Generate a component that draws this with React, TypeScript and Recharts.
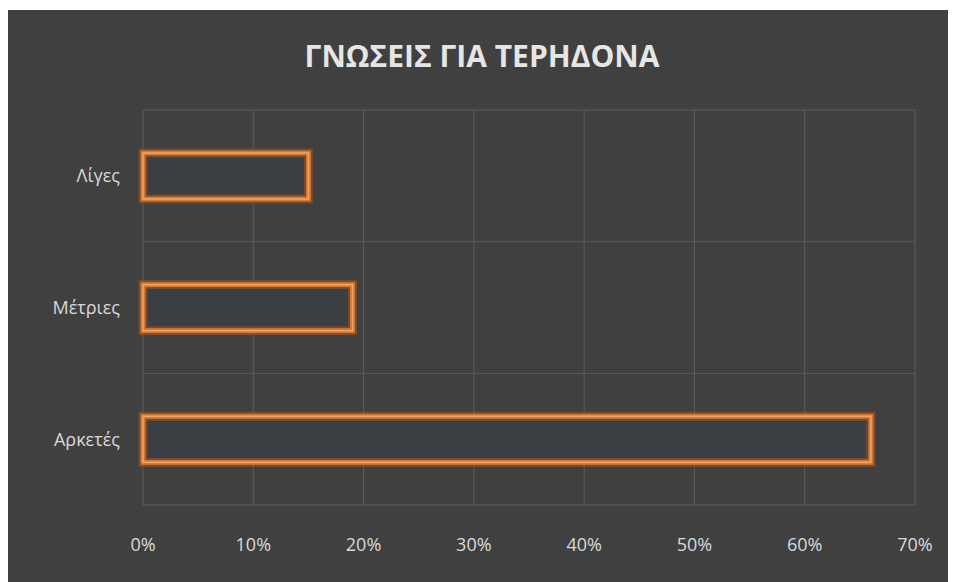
import { BarChart, Bar, XAxis, YAxis, CartesianGrid } from 'recharts';

const categories = ['Λίγες', 'Μέτριες', 'Αρκετές'];
const percentages = [15, 19, 66];
const xTicks = [0, 10, 20, 30, 40, 50, 60, 70];

const data = categories.map((name, i) => ({ name, value: percentages[i] }));

// orange outline with a soft glow, like the original
const GlowBar = (props: any) => {
  const { x, y, width, height } = props;
  if (width == null || width <= 0) return null;
  return (
    <g>
      <rect x={x} y={y} width={width} height={height} fill="#3b3e43" stroke="#b35a22" strokeWidth={9} strokeOpacity={0.45} />
      <rect x={x} y={y} width={width} height={height} fill="none" stroke="#d7772f" strokeWidth={5} />
      <rect x={x} y={y} width={width} height={height} fill="none" stroke="#f0a56a" strokeWidth={1.5} />
    </g>
  );
};

const tickStyle = { fill: '#d9d9d9', fontSize: 18, fontFamily: '"Open Sans", sans-serif' };

export default function App() {
  return (
    <div style={{ position: 'relative', width: 948, height: 572, marginTop: 2, background: '#404040' }}>
      <div
        style={{
          position: 'absolute',
          top: 25,
          left: 0,
          width: 948,
          textAlign: 'center',
          fontFamily: '"Open Sans", sans-serif',
          fontWeight: 700,
          fontSize: 30,
          color: '#e6e6e6',
        }}
      >
        ΓΝΩΣΕΙΣ ΓΙΑ ΤΕΡΗΔΟΝΑ
      </div>
      <BarChart
        width={948}
        height={572}
        data={data}
        layout="vertical"
        margin={{ top: 100, right: 41, left: 8, bottom: 37 }}
        barSize={46}
      >
        <CartesianGrid
          stroke="#5c5c5c"
          horizontalCoordinatesGenerator={({ offset }: any) => {
            const step = offset.height / categories.length;
            return categories.map((_, i) => offset.top + i * step).concat(offset.top + offset.height);
          }}
        />
        <XAxis
          type="number"
          domain={[0, 70]}
          ticks={xTicks}
          tickFormatter={(v: number) => `${v}%`}
          axisLine={false}
          tickLine={false}
          tickMargin={27}
          height={40}
          tick={tickStyle}
        />
        <YAxis
          type="category"
          dataKey="name"
          width={127}
          axisLine={false}
          tickLine={false}
          tickMargin={17}
          tick={tickStyle}
        />
        <Bar dataKey="value" shape={<GlowBar />} isAnimationActive={false} />
      </BarChart>
    </div>
  );
}
